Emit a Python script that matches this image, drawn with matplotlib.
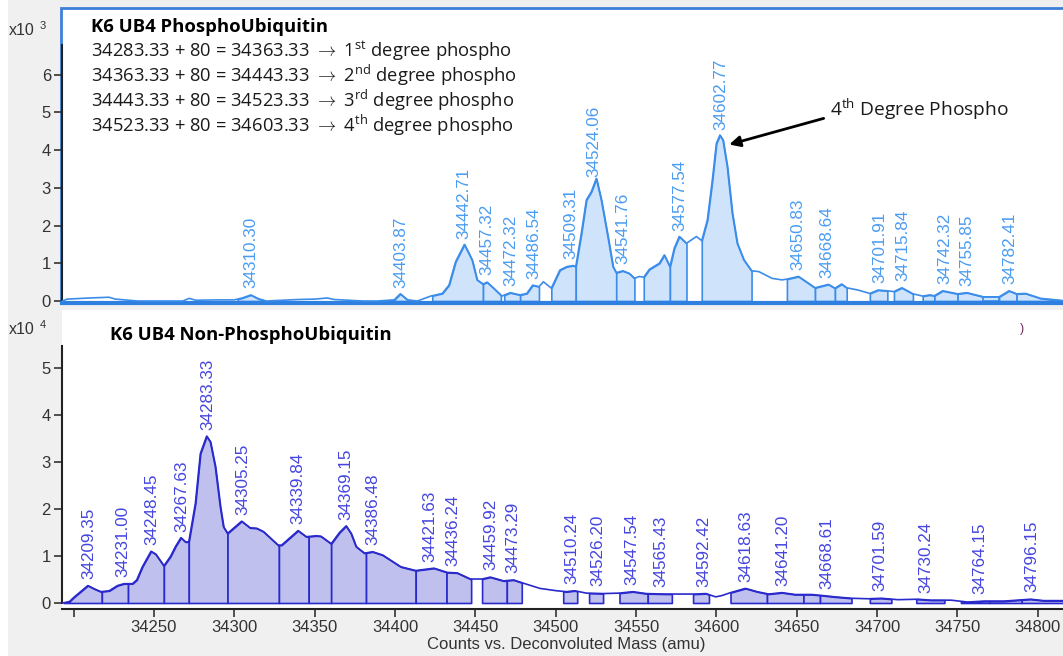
import numpy as np
import matplotlib
matplotlib.use("Agg")
import matplotlib.pyplot as plt
from matplotlib.patches import Rectangle

plt.rcParams["font.family"] = ["Liberation Sans", "DejaVu Sans"]
plt.rcParams["mathtext.fontset"] = "custom"
plt.rcParams["mathtext.rm"] = "Open Sans"

# ---- phospho spectrum (counts x10^3) ----
top_mass = [34193, 34196, 34210, 34222, 34226, 34240, 34268, 34272, 34276, 34290,
            34300, 34305, 34310.3, 34315, 34320, 34330, 34340, 34350, 34358, 34362,
            34380, 34389, 34399.5, 34403.3, 34407.8, 34414, 34422.2, 34429.4, 34433.6, 34437.7,
            34443.2, 34448, 34451.1, 34454.8, 34457.3, 34461.4, 34466.5, 34471.7, 34477.9, 34482,
            34485.7, 34489.6, 34492.4, 34497.3, 34502.6, 34506.8, 34510.9, 34512.5, 34516, 34519.1,
            34522.2, 34525.3, 34528.4, 34532.5, 34535.7, 34537.7, 34541.8, 34545.9, 34549, 34552.1,
            34554.8, 34558.3, 34564.5, 34567.6, 34571.1, 34573.8, 34576.9, 34581.4, 34587.6, 34590.9,
            34594.4, 34597.5, 34600, 34602.2, 34604.1, 34606.8, 34609.9, 34613, 34617.1, 34621.9,
            34626.4, 34634.7, 34640.8, 34643.9, 34651.1, 34657.3, 34661.4, 34669.7, 34673.8, 34677.9,
            34681.1, 34688.2, 34695.5, 34700.6, 34706.4, 34710.5, 34715.4, 34722.3, 34728.4, 34732.6,
            34735.7, 34740.8, 34750.1, 34755.9, 34766.2, 34775.9, 34782.1, 34786.8, 34792.4, 34801.7,
            34816]
top_int = [0.0, 0.05, 0.08, 0.1, 0.05, 0.0, 0.0, 0.07, 0.02, 0.03,
           0.03, 0.08, 0.16, 0.06, 0.0, 0.02, 0.04, 0.05, 0.08, 0.04,
           0.0, 0.0, 0.03, 0.19, 0.03, 0.0, 0.13, 0.2, 0.42, 1.04,
           1.5, 1.09, 0.56, 0.45, 0.5, 0.34, 0.13, 0.22, 0.16, 0.2,
           0.42, 0.38, 0.51, 0.34, 0.82, 0.91, 0.94, 0.91, 1.8, 2.68,
           2.9, 3.25, 2.68, 1.71, 0.91, 0.75, 0.8, 0.73, 0.6, 0.65,
           0.63, 0.84, 1.0, 1.22, 0.91, 1.4, 1.71, 1.53, 1.71, 1.6,
           2.15, 3.21, 4.18, 4.4, 4.27, 3.56, 2.33, 1.53, 1.09, 0.8,
           0.78, 0.6, 0.56, 0.58, 0.65, 0.47, 0.35, 0.44, 0.34, 0.45,
           0.35, 0.29, 0.2, 0.29, 0.27, 0.25, 0.35, 0.19, 0.13, 0.16,
           0.14, 0.27, 0.19, 0.22, 0.11, 0.11, 0.27, 0.19, 0.2, 0.07,
           0.01]
top_regions = [(34302, 34318), (34397, 34410), (34423.2, 34454.8), (34454.8, 34465.9),
               (34468.0, 34477.9), (34477.9, 34489.6), (34497.3, 34512.5), (34512.5, 34537.7),
               (34537.7, 34549.0), (34554.8, 34571.1), (34571.1, 34581.4), (34590.9, 34621.9),
               (34643.9, 34661.4), (34661.4, 34673.8), (34673.8, 34681.1), (34695.5, 34706.4),
               (34710.5, 34722.3), (34728.4, 34735.7), (34735.7, 34750.1), (34750.1, 34766.2),
               (34766.2, 34775.9), (34775.9, 34786.8), (34786.8, 34816)]
top_peaks = [34310.30, 34403.87, 34442.71, 34457.32, 34472.32, 34486.54, 34509.31,
             34524.06, 34541.76, 34577.54, 34602.77, 34650.83, 34668.64, 34701.91,
             34715.84, 34742.32, 34755.85, 34782.41]

# ---- non-phospho spectrum (counts x10^4) ----
bot_mass = [34193.3, 34197.4, 34200.5, 34208.9, 34212.9, 34217.0, 34222.2, 34227.3, 34231.4, 34236.6,
            34239.3, 34242.8, 34248.2, 34251.1, 34256.2, 34260.3, 34263.4, 34266.8, 34269.6, 34271.7,
            34275.8, 34278.9, 34282.8, 34285.1, 34288.2, 34291.3, 34293.3, 34295.8, 34299.5, 34304.6,
            34309.8, 34313.9, 34318.1, 34327.3, 34329.4, 34339.7, 34344.8, 34351.0, 34353.9, 34360.3,
            34365.5, 34369.6, 34372.7, 34375.8, 34381.0, 34386.1, 34392.3, 34403.6, 34412.9, 34424.3,
            34432.5, 34438.7, 34446.9, 34454.2, 34459.3, 34467.6, 34473.8, 34480.0, 34490.2, 34500.6,
            34506.8, 34511.7, 34519.1, 34529.5, 34539.7, 34548.0, 34556.3, 34568.6, 34587.2, 34593.4,
            34599.6, 34603.7, 34608.8, 34618.1, 34625.4, 34632.5, 34640.8, 34649.0, 34659.4, 34665.6,
            34673.8, 34684.1, 34694.4, 34702.7, 34713.0, 34725.3, 34733.6, 34746.0, 34756.3, 34766.6,
            34779.0, 34795.5, 34803.7, 34816]
bot_int = [0.0, 0.03, 0.13, 0.37, 0.3, 0.24, 0.26, 0.37, 0.41, 0.41,
           0.49, 0.77, 1.1, 1.04, 0.79, 0.99, 1.2, 1.39, 1.3, 1.3,
           2.12, 3.18, 3.55, 3.43, 2.9, 2.05, 1.62, 1.48, 1.59, 1.74,
           1.6, 1.59, 1.52, 1.23, 1.23, 1.54, 1.41, 1.43, 1.42, 1.26,
           1.5, 1.64, 1.48, 1.2, 1.06, 1.09, 1.02, 0.77, 0.69, 0.74,
           0.65, 0.64, 0.51, 0.51, 0.55, 0.47, 0.49, 0.42, 0.31, 0.26,
           0.24, 0.26, 0.21, 0.2, 0.21, 0.24, 0.2, 0.19, 0.19, 0.2,
           0.13, 0.16, 0.22, 0.31, 0.24, 0.19, 0.22, 0.18, 0.18, 0.16,
           0.13, 0.1, 0.09, 0.1, 0.07, 0.08, 0.06, 0.06, 0.02, 0.04,
           0.04, 0.08, 0.05, 0.05]
bot_regions = [(34194, 34217.6), (34217.6, 34233.9), (34233.9, 34256.2), (34256.2, 34271.7),
               (34271.7, 34295.8), (34295.8, 34327.8), (34327.8, 34346.3), (34346.3, 34360.3),
               (34360.3, 34382.0), (34382.0, 34412.9), (34412.9, 34432.1), (34432.1, 34447.4),
               (34454.2, 34469.6), (34469.6, 34478.9), (34504.7, 34513.4), (34520.8, 34529.5),
               (34539.7, 34557.3), (34557.3, 34572.3), (34585.5, 34595.4), (34608.8, 34631.5),
               (34631.5, 34654.2), (34654.2, 34664.5), (34664.5, 34684.1), (34695.5, 34708.9),
               (34724.4, 34741.9), (34752.2, 34770), (34770, 34790), (34790, 34816)]
bot_peaks = [34209.35, 34231.00, 34248.45, 34267.63, 34283.33, 34305.25, 34339.84,
             34369.15, 34386.48, 34421.63, 34436.24, 34459.92, 34473.29, 34510.24,
             34526.20, 34547.54, 34565.43, 34592.42, 34618.63, 34641.20, 34668.61,
             34701.59, 34730.24, 34764.15, 34796.15]

xticks = list(range(34200, 34801, 50))
xticklabels = [""] + [str(t) for t in xticks[1:]]

equations = [r"34283.33 + 80 = 34363.33 $\rightarrow$ 1$^{\rm st}$ degree phospho",
             r"34363.33 + 80 = 34443.33 $\rightarrow$ 2$^{\rm nd}$ degree phospho",
             r"34443.33 + 80 = 34523.33 $\rightarrow$ 3$^{\rm rd}$ degree phospho",
             r"34523.33 + 80 = 34603.33 $\rightarrow$ 4$^{\rm th}$ degree phospho"]

W, H = 1063, 656
fig = plt.figure(figsize=(W / 100, H / 100), dpi=100, facecolor="#f0f0f0")


def px_box(x0, y0, x1, y1):
    return [x0 / W, 1 - y1 / H, (x1 - x0) / W, (y1 - y0) / H]


fig.add_artist(Rectangle((0, 0), 8 / W, 1, transform=fig.transFigure,
                         facecolor="white", edgecolor="none", zorder=0))
fig.add_artist(Rectangle((61 / W, 1 - 303 / H), (1075 - 61) / W, (303 - 8) / H,
                         transform=fig.transFigure, facecolor="white",
                         edgecolor="#3d80d8", lw=2, zorder=0))
fig.add_artist(Rectangle((62 / W, 1 - 609 / H), 1, (609 - 310) / H,
                         transform=fig.transFigure, facecolor="white",
                         edgecolor="none", zorder=0))

ax1 = fig.add_axes(px_box(62, 45, W, 303))
ax2 = fig.add_axes(px_box(62, 346, W, 609))


def draw_spectrum(ax, mass, inten, regions, peaks, line_c, fill_c, text_c):
    mass = np.array(mass)
    inten = np.array(inten)
    for a, b in regions:
        inside = (mass > a) & (mass < b)
        xs = np.concatenate([[a], mass[inside], [b]])
        ys = np.interp(xs, mass, inten)
        ax.fill_between(xs, 0, ys, facecolor=fill_c, edgecolor=line_c, lw=1.2, zorder=2)
    ax.plot(mass, inten, color=line_c, lw=1.2, zorder=3)
    for p in peaks:
        ax.annotate(f"{p:.2f}", (p, np.interp(p, mass, inten)), xytext=(0, 5),
                    textcoords="offset points", rotation=90, ha="center", va="bottom",
                    fontsize=12.3, color=text_c, zorder=4)


draw_spectrum(ax1, top_mass, top_int, top_regions, top_peaks,
              "#3c8dea", "#cfe4fb", "#4a9cf2")
draw_spectrum(ax2, bot_mass, bot_int, bot_regions, bot_peaks,
              "#2a2acc", "#bfc0ee", "#4545e0")

for ax in (ax1, ax2):
    ax.set_xlim(34192.8, 34815.7)
    ax.set_facecolor("none")
    ax.spines["top"].set_visible(False)
    ax.spines["right"].set_visible(False)
    ax.tick_params(axis="y", length=6, width=1.2, pad=2, labelsize=12,
                   colors="#333333")

ax1.set_ylim(-0.053, 6.79)
ax1.set_yticks(range(0, 7))
ax1.set_xticks([])
ax1.spines["left"].set_color("#222222")
ax1.spines["left"].set_linewidth(1.5)
ax1.spines["bottom"].set_color("#2f7fe0")
ax1.spines["bottom"].set_linewidth(3)

ax2.set_ylim(-0.128, 5.468)
ax2.set_yticks(range(0, 6))
ax2.spines["left"].set_bounds(0, 5.468)
ax2.spines["left"].set_color("#222222")
ax2.spines["left"].set_linewidth(1.5)
ax2.spines["bottom"].set_color("#222222")
ax2.spines["bottom"].set_linewidth(1.5)
ax2.set_xticks(xticks)
ax2.set_xticklabels(xticklabels)
ax2.tick_params(axis="x", length=6, width=1.2, pad=2, labelsize=12, colors="#333333")

# exponent markers
fig.text(9 / W, 1 - 35 / H, "x10", fontsize=11.5, color="#333333")
fig.text(40 / W, 1 - 29 / H, "3", fontsize=8, color="#333333")
fig.text(9 / W, 1 - 334 / H, "x10", fontsize=11.5, color="#333333")
fig.text(40 / W, 1 - 328 / H, "4", fontsize=8, color="#333333")

# panel text
fig.text(91 / W, 1 - 32 / H, "K6 UB4 PhosphoUbiquitin", fontsize=13.3,
         fontweight="bold", family="Open Sans", color="black")
for i, line in enumerate(equations):
    fig.text(91 / W, 1 - (57 + 25 * i) / H, line, fontsize=13.2,
             family="Open Sans", color="#1a1a1a")
fig.text(110 / W, 1 - 340 / H, "K6 UB4 Non-PhosphoUbiquitin", fontsize=13.3,
         fontweight="bold", family="Open Sans", color="black")

ax1.annotate(r"4$^{\rm th}$ Degree Phospho", xy=(34608, 4.15), xytext=(34671, 5.1),
             fontsize=13.8, family="Open Sans", color="#1a1a1a", va="center", ha="left",
             arrowprops=dict(arrowstyle="-|>", color="black", lw=2, mutation_scale=16,
                             relpos=(0, 0.2), shrinkA=3, shrinkB=0))

fig.text(1022 / W, 1 - 329 / H, ")", fontsize=9, color="#6a2a5a", ha="center", va="center")

fig.text(566 / W, 1 - 645 / H, "Counts vs. Deconvoluted Mass (amu)", fontsize=12,
         color="#333333", ha="center", va="center")

fig.savefig("out.png", dpi=100, facecolor=fig.get_facecolor())
